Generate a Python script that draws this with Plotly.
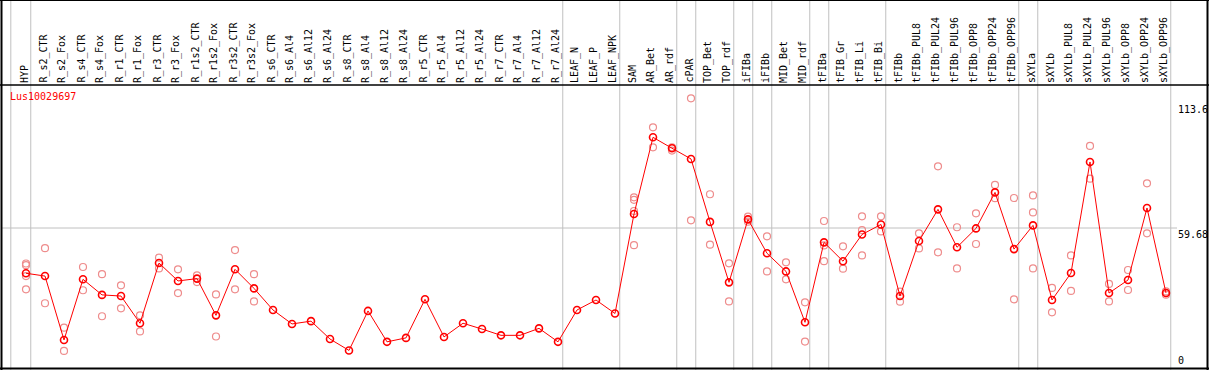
import plotly.graph_objects as go

categories = ["HYP", "R_s2_CTR", "R_s2_Fox", "R_s4_CTR", "R_s4_Fox", "R_r1_CTR", "R_r1_Fox",
              "R_r3_CTR", "R_r3_Fox", "R_r1s2_CTR", "R_r1s2_Fox", "R_r3s2_CTR", "R_r3s2_Fox",
              "R_s6_CTR", "R_s6_Al4", "R_s6_Al12", "R_s6_Al24", "R_s8_CTR", "R_s8_Al4",
              "R_s8_Al12", "R_s8_Al24", "R_r5_CTR", "R_r5_Al4", "R_r5_Al12", "R_r5_Al24",
              "R_r7_CTR", "R_r7_Al4", "R_r7_Al12", "R_r7_Al24", "LEAF_N", "LEAF_P", "LEAF_NPK",
              "SAM", "AR_Bet", "AR_rdf", "cPAR", "TOP_Bet", "TOP_rdf", "iFIBa", "iFIBb",
              "MID_Bet", "MID_rdf", "tFIBa", "tFIB_Gr", "tFIB_Li", "tFIB_Bi", "tFIBb",
              "tFIBb_PUL8", "tFIBb_PUL24", "tFIBb_PUL96", "tFIBb_OPP8", "tFIBb_OPP24",
              "tFIBb_OPP96", "sXYLa", "sXYLb", "sXYLb_PUL8", "sXYLb_PUL24", "sXYLb_PUL96",
              "sXYLb_OPP8", "sXYLb_OPP24", "sXYLb_OPP96"]

mean_values = [40.2, 39.0, 11.5, 37.6, 30.9, 30.4, 18.7, 44.6, 36.9, 37.9, 22.1, 41.9, 33.7,
               24.4, 18.4, 19.6, 11.9, 7.0, 24.0, 10.7, 12.4, 29.0, 12.8, 18.7, 16.2,
               13.5, 13.5, 16.5, 10.7, 24.4, 28.7, 22.9,
               65.7, 98.7, 94.0, 89.4, 62.3, 36.3, 63.4, 48.8, 41.0, 19.1,
               53.5, 45.4, 56.9, 61.2, 30.4, 54.1, 67.7, 51.4, 59.5, 75.0, 50.6,
               60.8, 28.7, 40.3, 88.1, 31.7, 37.3, 68.3, 31.7]

replicates = [
    [44.4, 43.7, 39.0, 33.3], [51.0, 27.3], [16.8, 6.8], [42.9, 32.9], [39.8, 21.7],
    [35.0, 25.1], [22.1, 15.2], [46.9, 42.3], [41.9, 31.7], [39.3, 36.4], [31.1, 13.0],
    [50.2, 33.3], [39.8, 28.1],
    [], [], [], [], [], [], [], [], [], [], [], [], [], [], [], [], [], [], [],
    [72.9, 71.8, 67.0, 52.3], [103.0, 94.4], [94.4, 93.0], [115.5, 63.0], [74.2, 52.5],
    [44.5, 28.1], [64.6, 62.4], [56.1, 41.0], [44.9, 37.6], [27.7, 10.8],
    [62.7, 52.2, 45.4], [51.8, 42.2], [64.7, 58.8, 47.9], [64.7, 58.2], [32.3, 28.0],
    [57.4, 50.9], [86.2, 49.2], [60.0, 42.3], [66.0, 52.8], [78.2, 72.5], [72.6, 29.0],
    [73.7, 66.4, 42.3], [33.9, 23.4], [47.9, 32.6], [95.0, 80.9], [35.6, 28.1],
    [41.6, 33.0], [78.9, 57.4], [32.4, 31.0],
]

gene_label = "Lus10029697"
y_tick_values = [113.6, 59.68, 0]
y_tick_labels = ["113.6", "59.68", "0"]
group_separators = [-0.8, 0.25, 28.25, 31.25, 34.25, 35.25, 37.25, 38.25, 39.25, 41.25,
                    42.25, 45.25, 52.25, 53.25, 60.25]

W, H = 1209, 370
X0, DX = 26.0, 19.0          # pixel of first category, pixel step
Y0, DY = 366.7, 2.324        # pixel of value 0, pixels per unit

xr = [(0 - X0) / DX, (W - X0) / DX]
yr = [(Y0 - H) / DY, Y0 / DY]

def py(pix):
    return 1 - pix / H

def px(pix):
    return pix / W

FONT = "DejaVu Sans Mono"
xs = list(range(len(categories)))

rep_x, rep_y = [], []
for i, reps in enumerate(replicates):
    for v in reps:
        rep_x.append(i)
        rep_y.append(v)

fig = go.Figure()
fig.add_trace(go.Scatter(x=rep_x, y=rep_y, mode="markers",
                         marker=dict(symbol="circle-open", size=7, color="#ee8c8c",
                                     line=dict(width=1.2, color="#ee8c8c")),
                         showlegend=False, hoverinfo="skip"))
fig.add_trace(go.Scatter(x=xs, y=mean_values, mode="lines+markers",
                         line=dict(color="#ff0000", width=1),
                         marker=dict(symbol="circle-open", size=7, color="#ff0000",
                                     line=dict(width=1.6, color="#ff0000")),
                         showlegend=False))

shapes = []
for s in group_separators:
    shapes.append(dict(type="line", xref="x", yref="paper", x0=s, x1=s, y0=0, y1=1,
                       line=dict(color="#c0c0c0", width=1), layer="below"))
# horizontal grid at middle value
shapes.append(dict(type="line", xref="paper", yref="y", x0=px(2), x1=px(1177),
                   y0=y_tick_values[1], y1=y_tick_values[1],
                   line=dict(color="#c0c0c0", width=1), layer="below"))
# frame
shapes.append(dict(type="line", xref="paper", yref="paper", x0=0, x1=1, y0=py(0.5), y1=py(0.5),
                   line=dict(color="black", width=1)))
shapes.append(dict(type="line", xref="paper", yref="paper", x0=0, x1=1, y0=py(85), y1=py(85),
                   line=dict(color="black", width=1.5)))
shapes.append(dict(type="line", xref="paper", yref="paper", x0=0, x1=1, y0=py(368.5), y1=py(368.5),
                   line=dict(color="black", width=2)))
shapes.append(dict(type="line", xref="paper", yref="paper", x0=px(1.5), x1=px(1.5), y0=0, y1=1,
                   line=dict(color="black", width=2)))
shapes.append(dict(type="line", xref="paper", yref="paper", x0=px(1207.5), x1=px(1207.5), y0=0, y1=1,
                   line=dict(color="black", width=2)))

annotations = []
for i, c in enumerate(categories):
    annotations.append(dict(x=i - 0.1, xref="x", y=py(84), yref="paper", text=c,
                            textangle=-90, xanchor="center", yanchor="bottom",
                            showarrow=False, borderpad=0,
                            font=dict(family=FONT, size=10, color="black")))
annotations.append(dict(x=px(8.5), xref="paper", y=py(90), yref="paper", text=gene_label,
                        xanchor="left", yanchor="top", showarrow=False, borderpad=0,
                        font=dict(family=FONT, size=10, color="#ff0000")))
for v, t in zip(y_tick_values, y_tick_labels):
    annotations.append(dict(x=px(1177), xref="paper", y=v, yref="y", text=t,
                            xanchor="left", yanchor=("bottom" if v == 0 else "top"),
                            showarrow=False, borderpad=0,
                            font=dict(family=FONT, size=10, color="black")))

fig.update_layout(
    width=W, height=H,
    margin=dict(l=0, r=0, t=0, b=0),
    paper_bgcolor="white", plot_bgcolor="white",
    xaxis=dict(range=xr, visible=False, fixedrange=True),
    yaxis=dict(range=yr, visible=False, fixedrange=True),
    shapes=shapes, annotations=annotations,
)

fig.write_html("out.html", config={"displayModeBar": False},
               post_script="document.body.style.margin='0';document.body.style.overflow='hidden';")
